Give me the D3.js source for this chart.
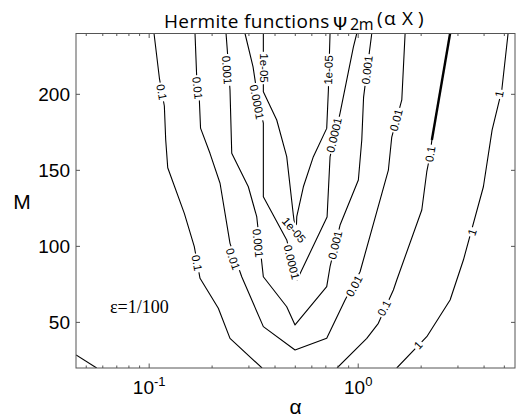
<!DOCTYPE html>
<html><head><meta charset="utf-8">
<script src="https://cdn.jsdelivr.net/npm/d3@7"></script>
<style>body{margin:0;background:#fff}</style>
</head><body>
<svg id="c" width="517" height="418"></svg>
<script>
// ---- data (alpha, M) ----
const contour01Left = [[0.1055,240],[0.1119,210.7],[0.1182,192.3],[0.1200,170],[0.1227,151.7],[0.1473,121.7],[0.1644,99.8],[0.1751,79],[0.2142,59.3],[0.2436,39.5],[0.3467,20]];
const contour001 = [[0.1657,240],[0.1688,211.6],[0.1738,196.3],[0.1761,177.8],[0.1954,161.2],[0.2183,141.5],[0.2436,102],[0.2772,80],[0.3517,47.2],[0.4986,31.8],[0.7068,39.5],[0.8652,64.7],[1.0207,83.3],[1.394,150.2],[1.447,171.9],[1.616,196.3],[1.676,240]];
const contour0001 = [[0.2332,240],[0.2384,222.6],[0.2436,202.8],[0.2483,161.2],[0.2981,139.2],[0.3270,119.5],[0.3517,80],[0.4550,60.3],[0.4986,48.3],[0.7068,73.5],[0.7332,86.6],[0.8188,114],[1.0016,143.6],[1.040,170],[1.061,198.2],[1.161,240]];
const contour00001 = [[0.2874,240],[0.3140,218],[0.3317,196.3],[0.3517,181.1],[0.3517,132.7],[0.4550,104.2],[0.5097,77.9],[0.7096,119.3],[0.7332,158.8],[0.8188,187.7],[0.948,231.1],[0.984,240]];
const contour1e05 = [[0.3517,240],[0.3517,201.7],[0.4076,183.1],[0.4550,159],[0.4894,120.6],[0.5042,106.8],[0.5082,119.5],[0.5466,139.2],[0.6101,159],[0.7068,177.6],[0.7200,202.8],[0.7332,240]];
const contour01RightUpper = [[2.751,240],[2.251,170]];
const contour01Right = [[2.251,170],[2.207,160.1],[2.128,149.1],[2.014,123.9],[1.529,77.9],[1.473,71.3],[1.248,49.4],[1.099,39.5],[0.792,20]];
const contour1 = [[5.21,240],[4.862,202.8],[4.369,176.5],[3.970,139.2],[3.185,91],[2.751,64.7],[2.128,40.6],[1.529,20]];
const contourCorner = [[0.0447,28.6],[0.0561,20]];

const labelText  = ["0.1","0.1","0.01","0.01","0.01","0.01","0.001","0.001","0.001","0.001","1e-04","1e-04","1e-04","1e-05","1e-05","1e-05","0.1","0.1","1","1","1"];
const labelAlpha = [0.1149,0.1694,0.1703,0.2519,0.955,1.517,0.2358,0.3317,0.7748,1.102,0.3281,0.4808,0.7662,0.3544,0.4932,0.7200,2.207,1.329,4.72,3.504,1.934];
const labelM     = [201.5,89.1,204.2,91.7,73.9,183.1,216,102.2,100.9,216,194.9,89.7,173.2,217.3,110.8,216,160.7,59.5,200.2,109.4,35.1];
const labelAngle = [80,80,84,71,-62,-75,86,84,-77,-83,79,76,-77,90,49,-88,-81,-63,-78,-72,-48];

const yTicks = [50,100,150,200];
const xMajor = [0.1,1];
const xMajorExp = ["-1","0"];
const xMinor = [0.05,0.06,0.07,0.08,0.09,0.2,0.3,0.4,0.5,0.6,0.7,0.8,0.9,2,3,4,5];

// ---- chart ----
const svg = d3.select("#c");
const L=76, R=515, T=33.5, B=368;
const x = d3.scaleLog().domain([Math.pow(10,-1.35), Math.pow(10,0.75)]).range([L,R]);
const y = d3.scaleLinear().domain([20,240]).range([B,T]);
const frameCol = "#555";

svg.append("clipPath").attr("id","clip").append("rect")
  .attr("x",L).attr("y",T).attr("width",R-L).attr("height",B-T);

const line = d3.line().x(d=>x(d[0])).y(d=>y(d[1]));
const g = svg.append("g").attr("clip-path","url(#clip)");
[contour01Left,contour001,contour0001,contour00001,contour1e05,contour01Right,contour1,contourCorner].forEach(c=>{
  g.append("path").attr("d",line(c)).attr("fill","none").attr("stroke","#000").attr("stroke-width",1.1).attr("stroke-linejoin","round");
});
g.append("path").attr("d",line(contour01RightUpper)).attr("fill","none").attr("stroke","#000").attr("stroke-width",2.4);

// contour labels
const fs = 11.5;
labelText.forEach((t,i)=>{
  const lg = svg.append("g").attr("transform",`translate(${x(labelAlpha[i])},${y(labelM[i])}) rotate(${labelAngle[i]})`);
  const tx = lg.append("text").attr("text-anchor","middle").attr("dy","0.36em")
    .style("font-family","'Liberation Sans', Arial, sans-serif").style("font-size",fs+"px").attr("fill","#000")
    .text(t.replace("1e-04","0.0001"));
  const bb = tx.node().getBBox();
  lg.insert("rect","text").attr("x",bb.x-1.5).attr("y",-fs*0.45).attr("width",bb.width+3).attr("height",fs*0.9).attr("fill","#fff");
});

// axes (inward ticks, all four sides)
const ax = svg.append("g").attr("stroke",frameCol).attr("stroke-width",1);
ax.append("rect").attr("x",L).attr("y",T).attr("width",R-L).attr("height",B-T).attr("fill","none");
xMinor.forEach(v=>{
  ax.append("line").attr("x1",x(v)).attr("x2",x(v)).attr("y1",B).attr("y2",B-2.5);
  ax.append("line").attr("x1",x(v)).attr("x2",x(v)).attr("y1",T).attr("y2",T+2.5);
});
xMajor.forEach(v=>{
  ax.append("line").attr("x1",x(v)).attr("x2",x(v)).attr("y1",B).attr("y2",B-4.5);
  ax.append("line").attr("x1",x(v)).attr("x2",x(v)).attr("y1",T).attr("y2",T+4.5);
});
yTicks.forEach(v=>{
  ax.append("line").attr("x1",L).attr("x2",L+4).attr("y1",y(v)).attr("y2",y(v));
  ax.append("line").attr("x1",R).attr("x2",R-4).attr("y1",y(v)).attr("y2",y(v));
});

const sans = "'Liberation Sans', Arial, sans-serif";
yTicks.forEach(v=>{
  svg.append("text").attr("x",70).attr("y",y(v)).attr("dy","0.36em").attr("text-anchor","end")
    .style("font-family",sans).style("font-size","19px").text(v);
});
xMajor.forEach((v,i)=>{
  const t = svg.append("text").attr("x",x(v)).attr("y",394).attr("text-anchor","middle")
    .style("font-family",sans).style("font-size","19px");
  t.append("tspan").text("10");
  t.append("tspan").attr("dy",-8).style("font-size","13px").text(xMajorExp[i]);
});
svg.append("text").attr("x",(L+R)/2).attr("y",414).attr("text-anchor","middle")
  .style("font-family",sans).style("font-size","21px").text("α");
svg.append("text").attr("x",22).attr("y",209).attr("text-anchor","middle")
  .style("font-family",sans).style("font-size","21px").text("M");
svg.append("text").attr("x",110).attr("y",313)
  .style("font-family","'Liberation Serif', 'Times New Roman', serif").style("font-size","18px").text("ε=1/100");

// title
const title = svg.append("text").attr("y",28).style("font-family","'Open Sans', sans-serif").style("font-size","19px");
title.append("tspan").attr("x",164).style("letter-spacing","0.35px").text("Hermite functions");
title.append("tspan").attr("x",333).attr("y",30).style("font-family","'DejaVu Sans', sans-serif").style("font-size","18px").text("Ψ");
title.append("tspan").attr("x",350).attr("y",30).style("font-size","16px").style("letter-spacing","-0.5px").text("2m");
title.append("tspan").attr("x",377).attr("y",25).text("(");
title.append("tspan").attr("x",384).attr("y",25).text("α");
title.append("tspan").attr("x",402).attr("y",25).text("X");
title.append("tspan").attr("x",418).attr("y",25).text(")");
</script></body></html>
